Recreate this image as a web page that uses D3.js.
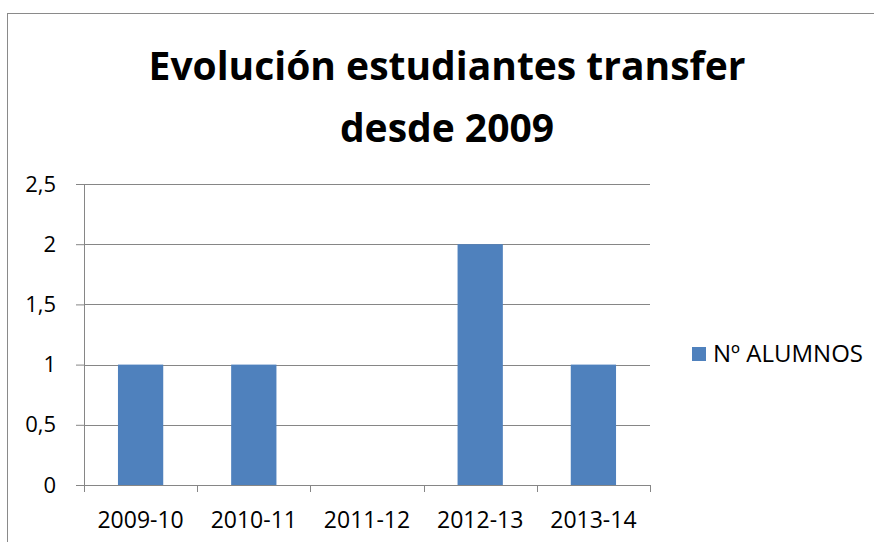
<!DOCTYPE html>
<html>
<head>
<meta charset="utf-8">
<script src="https://cdn.jsdelivr.net/npm/d3@7"></script>
<style>
    body { margin: 0; background: #fff; }
    svg text { font-family: 'Open Sans', 'Noto Sans', sans-serif; fill: #000; }
</style>
</head>
<body>
<div id="chart"></div>
<script>
const categories = ['2009-10', '2010-11', '2011-12', '2012-13', '2013-14']
const alumnos = [1, 1, 0, 2, 1]
const yTicks = [0, 0.5, 1, 1.5, 2, 2.5]
const seriesName = 'Nº ALUMNOS'
const titleLines = ['Evolución estudiantes transfer', 'desde 2009']

const width = 874
const height = 542
const plot = { left: 84, right: 650, top: 184, bottom: 485 }

const svg = d3.select('#chart')
    .append('svg')
    .attr('width', width)
    .attr('height', height)

// Chart frame (runs off the right and bottom edges)
svg.append('rect')
    .attr('x', 7.5)
    .attr('y', 13.5)
    .attr('width', 900)
    .attr('height', 600)
    .attr('fill', 'none')
    .attr('stroke', '#8a8a8a')

// Title
svg.append('text')
    .attr('text-anchor', 'middle')
    .attr('font-weight', 'bold')
    .attr('font-size', 39)
    .selectAll('tspan')
    .data(titleLines)
    .enter()
    .append('tspan')
    .attr('x', 447)
    .attr('y', (d, i) => 80 + i * 62)
    .text(d => d)

const x = d3.scaleBand()
    .domain(categories)
    .range([plot.left, plot.right])
    .paddingInner(0.6)
    .paddingOuter(0.3)

const y = d3.scaleLinear()
    .domain([0, 2.5])
    .range([plot.bottom, plot.top])

const fmt = d => String(d).replace('.', ',')

// y axis
const yAxis = svg.append('g')
    .attr('transform', `translate(${plot.left},0)`)
    .call(d3.axisLeft(y)
        .tickValues(yTicks)
        .tickSize(8)
        .tickFormat(fmt))
yAxis.select('.domain').attr('stroke', '#868686')
yAxis.selectAll('.tick line').attr('stroke', '#868686')
yAxis.selectAll('.tick text')
    .attr('x', -28)
    .attr('font-size', 22)
    .attr('fill', '#000')

// Gridlines
svg.append('g')
    .selectAll('line')
    .data(yTicks.filter(d => d > 0))
    .enter()
    .append('line')
    .attr('x1', plot.left)
    .attr('x2', plot.right)
    .attr('y1', d => Math.round(y(d)) + 0.5)
    .attr('y2', d => Math.round(y(d)) + 0.5)
    .attr('stroke', '#868686')

// Bars
svg.append('g')
    .selectAll('rect')
    .data(alumnos)
    .enter()
    .append('rect')
    .attr('x', (d, i) => x(categories[i]))
    .attr('y', d => y(d))
    .attr('width', x.bandwidth())
    .attr('height', d => y(0) - y(d))
    .attr('fill', '#4f81bd')

// X axis, ticks between categories
const xAxis = svg.append('g')
    .attr('transform', `translate(0,${plot.bottom})`)
xAxis.append('line')
    .attr('x1', plot.left)
    .attr('x2', plot.right)
    .attr('y1', 0.5)
    .attr('y2', 0.5)
    .attr('stroke', '#868686')
const bounds = categories.map(c => x(c) - x.step() * x.paddingInner() / 2)
bounds.push(plot.right)
xAxis.selectAll('.xtick')
    .data(bounds)
    .enter()
    .append('line')
    .attr('x1', d => Math.round(d) + 0.5)
    .attr('x2', d => Math.round(d) + 0.5)
    .attr('y1', 0)
    .attr('y2', 7)
    .attr('stroke', '#868686')
xAxis.selectAll('.xlabel')
    .data(categories)
    .enter()
    .append('text')
    .attr('x', d => x(d) + x.bandwidth() / 2)
    .attr('y', 43)
    .attr('text-anchor', 'middle')
    .attr('font-size', 23)
    .text(d => d)

// Legend
const legend = svg.append('g').attr('transform', 'translate(692,347)')
legend.append('rect')
    .attr('width', 14)
    .attr('height', 14)
    .attr('fill', '#4f81bd')
legend.append('text')
    .attr('x', 21)
    .attr('y', 15)
    .attr('font-size', 24)
    .text(seriesName)
</script>
</body>
</html>
